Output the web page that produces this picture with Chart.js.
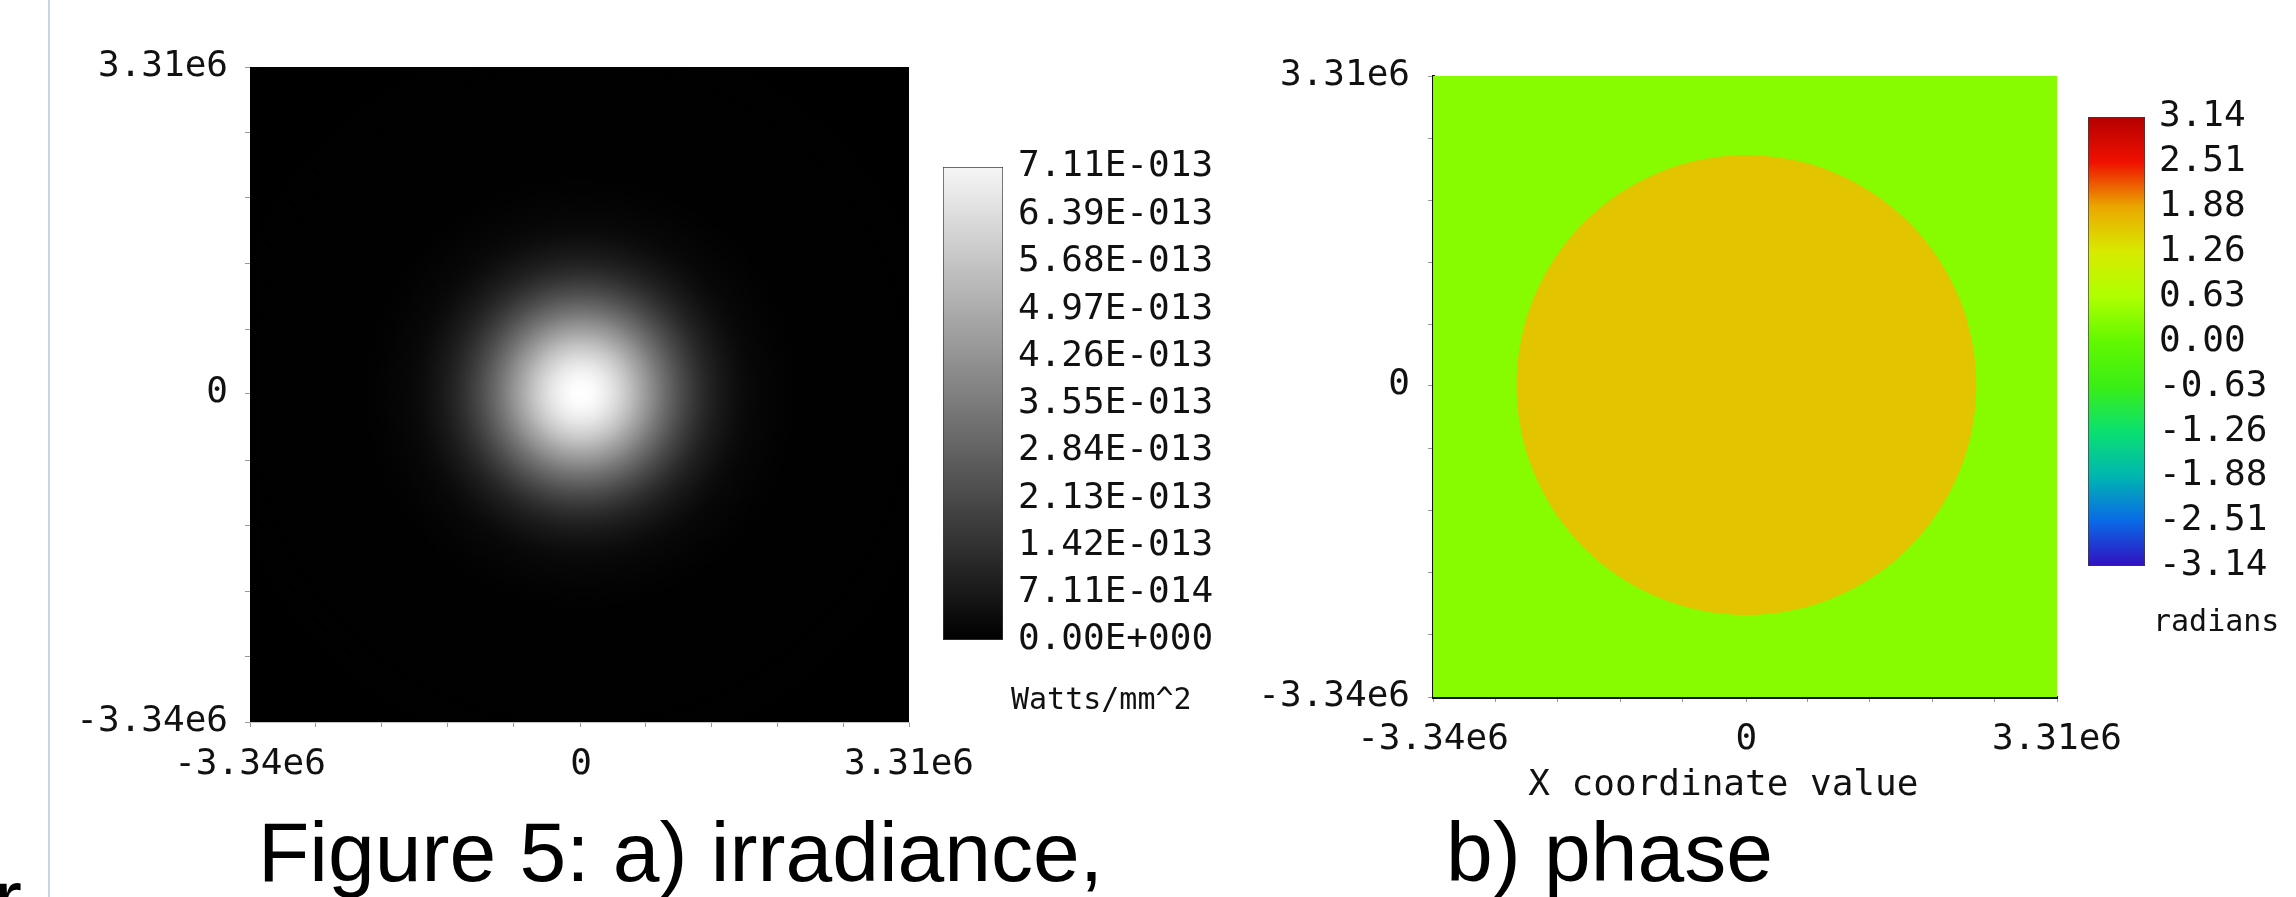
<!DOCTYPE html>
<html>
<head>
<meta charset="utf-8">
<title>Figure 5: irradiance and phase</title>
<script src="https://cdn.jsdelivr.net/npm/chart.js@4.4.1/dist/chart.umd.min.js"></script>
<style>
    html, body { margin: 0; padding: 0; background: #fff; }
    body { position: relative; width: 2296px; height: 897px; overflow: hidden; }
    canvas { position: absolute; }
    .rule { position: absolute; left: 48px; top: 0; width: 2px; height: 897px; background: #c8d6e8; }
    .caption {
        position: absolute;
        font-family: 'Liberation Sans', Arial, sans-serif;
        font-size: 84px;
        line-height: 1;
        white-space: nowrap;
        color: #000;
    }
</style>
</head>
<body>
<div class="rule"></div>
<canvas id="irr" width="1000" height="820" style="left:0px;top:0px"></canvas>
<canvas id="irrBar" width="300" height="600" style="left:943px;top:137px"></canvas>
<canvas id="phase" width="948" height="830" style="left:1200px;top:0px"></canvas>
<canvas id="phaseBar" width="208" height="559" style="left:2088px;top:87px"></canvas>
<div class="caption" style="left:258px;top:810px">Figure 5: a) irradiance,</div>
<div class="caption" style="left:1446px;top:810px">b) phase</div>
<div class="caption" style="left:-6px;top:857px">r</div>
<script>
// ---- values ----

// both maps use the same window
const axisMin = -3.34e6
const axisMax = 3.31e6
const axisTicks = [-3.34e6, -2.675e6, -2.01e6, -1.345e6, -0.68e6, 0, 0.65e6, 1.315e6, 1.98e6, 2.645e6, 3.31e6]
const axisLabels = ['-3.34e6', '', '', '', '', '0', '', '', '', '', '3.31e6']

// a) irradiance along a radius from the beam centre, in 1e-13 Watts/mm^2
const irrRadius = [0, 0.1e6, 0.2e6, 0.3e6, 0.4e6, 0.5e6, 0.6e6, 0.7e6, 0.8e6, 0.9e6, 1.0e6,
    1.1e6, 1.2e6, 1.3e6, 1.4e6, 1.5e6, 1.6e6, 1.7e6, 1.8e6, 2.0e6, 2.2e6]
const irrLevel = [7.11, 7.02, 6.78, 6.39, 5.88, 5.29, 4.64, 3.98, 3.33, 2.73, 2.18,
    1.70, 1.29, 0.96, 0.70, 0.50, 0.34, 0.23, 0.16, 0.07, 0.02]
const irrCover = 4.8e6 // reaches the plot corners
const irrBarTicks = [0, 0.711, 1.42, 2.13, 2.84, 3.55, 4.26, 4.97, 5.68, 6.39, 7.11]
const irrBarLabels = ['0.00E+000', '7.11E-014', '1.42E-013', '2.13E-013', '2.84E-013', '3.55E-013',
    '4.26E-013', '4.97E-013', '5.68E-013', '6.39E-013', '7.11E-013']

// b) phase in radians: flat field, flat disc in the middle
const phaseRadius = [4.8e6, 2.45e6]
const phaseValue = [0.31, 1.62]
const phaseBarTicks = [-3.14, -2.51, -1.88, -1.26, -0.63, 0, 0.63, 1.26, 1.88, 2.51, 3.14]
const phaseBarLabels = ['-3.14', '-2.51', '-1.88', '-1.26', '-0.63', '0.00', '0.63', '1.26', '1.88', '2.51', '3.14']
const phaseBarColors = ['#3210c0', '#0a6ae6', '#00b6b0', '#0ae070', '#3aee16', '#62f800',
    '#aeff00', '#d8ea00', '#eaa800', '#f01000', '#b40000']

// ---- helpers ----

Chart.defaults.font.family = '"DejaVu Sans Mono", monospace'
Chart.defaults.font.size = 36
Chart.defaults.color = '#111'

const hexToRgb = hex => [1, 3, 5].map(i => parseInt(hex.slice(i, i + 2), 16))

function phaseColor(v) {
    let i = 0
    while (i < phaseBarTicks.length - 2 && v > phaseBarTicks[i + 1]) i++
    const f = (v - phaseBarTicks[i]) / (phaseBarTicks[i + 1] - phaseBarTicks[i])
    const a = hexToRgb(phaseBarColors[i])
    const b = hexToRgb(phaseBarColors[i + 1])
    return `rgb(${a.map((x, k) => Math.round(x + (b[k] - x) * f)).join(',')})`
}

function grayColor(level) {
    const g = Math.round((255 * level) / irrBarTicks[irrBarTicks.length - 1])
    return `rgb(${g},${g},${g})`
}

// data radius -> pixels, through the x scale
const pixelRadius = (chart, r) => {
    const x = chart.scales.x
    return Math.abs(x.getPixelForValue(r) - x.getPixelForValue(0))
}

// unit text under a colour bar
const unitLabel = {
    id: 'unitLabel',
    afterDraw(chart, args, opts) {
        const { ctx, chartArea } = chart
        ctx.save()
        ctx.font = '30px "DejaVu Sans Mono"'
        ctx.fillStyle = '#111'
        ctx.textBaseline = 'middle'
        ctx.fillText(opts.text, chartArea.right + opts.dx, chartArea.bottom + opts.dy)
        ctx.restore()
    },
}

function mapAxis(afterFit, padding, border, title) {
    return {
        type: 'linear',
        min: axisMin,
        max: axisMax,
        afterBuildTicks: s => {
            s.ticks = axisTicks.map(value => ({ value }))
        },
        afterFit,
        border,
        title: title || { display: false },
        grid: { drawOnChartArea: false, tickLength: 5, color: '#9a9a9a' },
        ticks: { autoSkip: false, maxRotation: 0, padding, callback: (v, i) => axisLabels[i] },
    }
}

const baseOptions = {
    responsive: false,
    animation: false,
    events: [],
}

// ======================

// a) irradiance map: one disc, shaded by the radial profile
new Chart(document.getElementById('irr'), {
    type: 'scatter',
    data: {
        datasets: [{
            data: [{ x: 0, y: 0 }],
            pointRadius: c => pixelRadius(c.chart, irrCover),
            pointBackgroundColor: c => {
                const { chart } = c
                if (!chart.chartArea) return '#000'
                const cx = chart.scales.x.getPixelForValue(0)
                const cy = chart.scales.y.getPixelForValue(0)
                const g = chart.ctx.createRadialGradient(cx, cy, 0, cx, cy, pixelRadius(chart, irrCover))
                irrRadius.forEach((r, i) => g.addColorStop(r / irrCover, grayColor(irrLevel[i])))
                g.addColorStop(1, grayColor(0))
                return g
            },
            pointBorderWidth: 0,
            clip: 0,
        }],
    },
    options: {
        ...baseOptions,
        layout: { padding: { left: 0, top: 67, right: 91, bottom: 0 } },
        plugins: { legend: { display: false }, tooltip: { enabled: false } },
        scales: {
            x: mapAxis(s => { s.height = 98 }, 16, { color: '#c4c4c4', width: 1 }),
            y: mapAxis(s => { s.width = 250 }, 17, { display: false }),
        },
    },
})

// b) phase map: field first, disc on top
new Chart(document.getElementById('phase'), {
    type: 'scatter',
    data: {
        datasets: [{
            data: phaseRadius.map(() => ({ x: 0, y: 0 })),
            pointRadius: c => pixelRadius(c.chart, phaseRadius[c.dataIndex]),
            pointBackgroundColor: c => phaseColor(phaseValue[c.dataIndex]),
            pointBorderWidth: 0,
            clip: 0,
        }],
    },
    options: {
        ...baseOptions,
        layout: { padding: { left: 0, top: 76, right: 91, bottom: 0 } },
        plugins: { legend: { display: false }, tooltip: { enabled: false } },
        scales: {
            x: mapAxis(s => { s.height = 133 }, 16, { color: '#111', width: 3 }, {
                display: true,
                text: 'X coordinate value  ', // trailing spaces nudge it left like the original
                padding: { top: 0, bottom: 23 },
            }),
            y: mapAxis(s => { s.width = 233 }, 18, { color: '#111', width: 3 }),
        },
    },
})

// colour bars
function colorBar(id, ticks, labels, paint, unit, geo) {
    return new Chart(document.getElementById(id), {
        type: 'bar',
        data: {
            labels: [unit],
            datasets: [{
                data: [[ticks[0], ticks[ticks.length - 1]]],
                backgroundColor: c => {
                    const area = c.chart.chartArea
                    if (!area) return null
                    const g = c.chart.ctx.createLinearGradient(0, area.bottom, 0, area.top)
                    paint(g)
                    return g
                },
                borderColor: '#3c3c3c',
                borderWidth: 1,
                borderSkipped: false,
                barPercentage: 1,
                categoryPercentage: 1,
            }],
        },
        options: {
            ...baseOptions,
            layout: { padding: { left: 0, top: 30, right: 0, bottom: geo.bottom } },
            plugins: {
                legend: { display: false },
                tooltip: { enabled: false },
                unitLabel: { text: unit, dx: geo.dx, dy: geo.dy },
            },
            scales: {
                x: { display: false },
                y: {
                    position: 'right',
                    min: ticks[0],
                    max: ticks[ticks.length - 1],
                    afterBuildTicks: s => {
                        s.ticks = ticks.map(value => ({ value }))
                    },
                    afterFit: s => { s.width = geo.axisWidth },
                    grid: { display: false },
                    border: { display: false },
                    ticks: { autoSkip: false, padding: geo.tickPad, callback: (v, i) => labels[i] },
                },
            },
        },
        plugins: [unitLabel],
    })
}

colorBar('irrBar', irrBarTicks, irrBarLabels, g => {
    g.addColorStop(0, grayColor(0))
    g.addColorStop(1, '#f6f6f6')
}, 'Watts/mm^2', { bottom: 97, axisWidth: 240, tickPad: 7, dx: 8, dy: 61 })

colorBar('phaseBar', phaseBarTicks, phaseBarLabels, g => {
    const lo = phaseBarTicks[0]
    const hi = phaseBarTicks[phaseBarTicks.length - 1]
    phaseBarTicks.forEach((v, i) => g.addColorStop((v - lo) / (hi - lo), phaseBarColors[i]))
}, 'radians', { bottom: 80, axisWidth: 151, tickPad: 6, dx: 8, dy: 57 })
</script>
</body>
</html>
